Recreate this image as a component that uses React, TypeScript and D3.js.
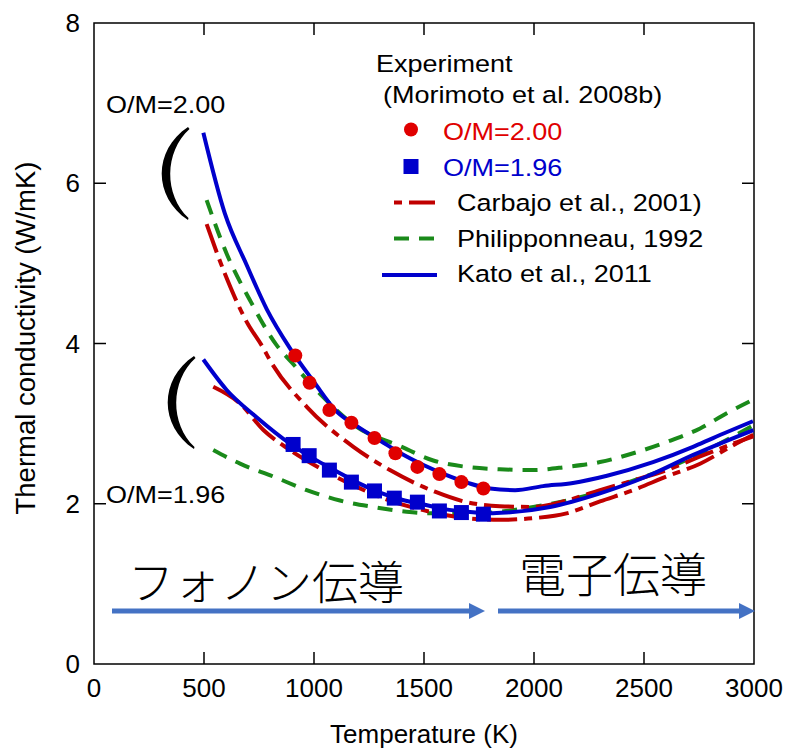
import React from "react";
import * as d3 from "d3";

// ---- data ----
const xTicks = [0, 500, 1000, 1500, 2000, 2500, 3000];
const yTicks = [0, 2, 4, 6, 8];

const expT200 = [915, 980, 1070, 1170, 1275, 1370, 1470, 1570, 1670, 1770];
const expK200 = [3.85, 3.51, 3.17, 3.01, 2.82, 2.63, 2.46, 2.37, 2.27, 2.19];
const expT196 = [905, 978, 1070, 1170, 1275, 1365, 1470, 1570, 1670, 1770];
const expK196 = [2.74, 2.6, 2.42, 2.27, 2.16, 2.07, 2.02, 1.91, 1.89, 1.87];

const katoT200 = [497, 595, 694, 785, 891, 1000, 1100, 1200, 1300, 1400, 1500, 1600, 1700, 1800, 1914, 2041, 2177, 2332, 2541, 2723, 2814, 2995];
const katoK200 = [6.63, 5.62, 4.98, 4.43, 3.94, 3.52, 3.16, 2.96, 2.79, 2.62, 2.48, 2.36, 2.26, 2.19, 2.17, 2.22, 2.26, 2.35, 2.52, 2.71, 2.82, 3.03];
const katoT196 = [497, 603, 739, 891, 1000, 1100, 1200, 1300, 1400, 1500, 1600, 1700, 1800, 1876, 2073, 2300, 2512, 2724, 2997];
const katoK196 = [3.8, 3.42, 3.08, 2.75, 2.56, 2.41, 2.26, 2.14, 2.05, 1.99, 1.93, 1.9, 1.88, 1.89, 1.96, 2.13, 2.34, 2.61, 2.92];

const carbT200 = [512, 595, 694, 770, 800, 967, 1179, 1345, 1550, 1694, 1845, 1995, 2148, 2300, 2450, 2603, 2755, 2905, 2997];
const carbK200 = [5.49, 4.87, 4.27, 3.94, 3.79, 3.21, 2.71, 2.42, 2.15, 2.02, 1.97, 1.96, 2.04, 2.17, 2.29, 2.42, 2.59, 2.75, 2.84];
const carbT196 = [542, 664, 770, 891, 1042, 1194, 1345, 1497, 1694, 1845, 1997, 2148, 2300, 2451, 2603, 2755, 2906, 2997];
const carbK196 = [3.46, 3.25, 2.92, 2.67, 2.42, 2.21, 2.04, 1.92, 1.82, 1.8, 1.82, 1.88, 2.03, 2.17, 2.34, 2.5, 2.73, 2.86];

const phT200 = [512, 603, 709, 830, 900, 1042, 1194, 1391, 1542, 1694, 1845, 1997, 2148, 2300, 2451, 2603, 2755, 2876, 2997];
const phK200 = [5.79, 5.12, 4.54, 3.98, 3.76, 3.33, 2.96, 2.72, 2.54, 2.46, 2.43, 2.42, 2.46, 2.52, 2.63, 2.77, 2.94, 3.13, 3.3];
const phT196 = [542, 664, 815, 967, 1118, 1270, 1421, 1541, 1694, 1845, 1997, 2148, 2300, 2451, 2603, 2755, 2906, 2997];
const phK196 = [2.67, 2.5, 2.34, 2.17, 2.04, 1.96, 1.9, 1.88, 1.88, 1.9, 1.96, 2.04, 2.15, 2.29, 2.44, 2.63, 2.84, 2.98];

const legendLabels = ["Experiment", "(Morimoto et al. 2008b)", "O/M=2.00", "O/M=1.96", "Carbajo et al., 2001)", "Philipponneau, 1992", "Kato et al., 2011"];

const RED = "#e00000";
const DRED = "#c00000";
const GREEN = "#1a8a1a";
const BLUE = "#0000cc";
const ARROW = "#4472c4";
const FONT = "'Liberation Sans', Arial, sans-serif";

const zip = (t: number[], k: number[]) => t.map((v, i) => [v, k[i]] as [number, number]);

const W = 787, H = 750;
const x = d3.scaleLinear().domain([0, 3000]).range([94, 754]);
const y = d3.scaleLinear().domain([0, 8]).range([664, 23]);

const line = d3
  .line<[number, number]>()
  .x((d) => x(d[0]))
  .y((d) => y(d[1]))
  .curve(d3.curveMonotoneX);

function SText(props: { x: number; y: number; size?: number; fill?: string; sx?: number; children: any }) {
  const { size = 23.5, fill = "#000", sx = 1.15 } = props;
  return (
    <text
      transform={`translate(${props.x},${props.y}) scale(${sx},1)`}
      fontFamily={FONT}
      fontSize={size}
      fill={fill}
    >
      {props.children}
    </text>
  );
}

// big bracket shape: top tip at (tx,ty), height h
function bracketPath(tx: number, ty: number, h: number) {
  const by = ty + h;
  return [
    `M${tx},${ty}`,
    `C${tx - 35},${ty + h * 0.25} ${tx - 35},${by - h * 0.25} ${tx},${by}`,
    `L${tx + 0.5},${by - 2}`,
    `C${tx - 24},${by - h * 0.27} ${tx - 24},${ty + h * 0.27} ${tx + 1.5},${ty + 2}`,
    "Z",
  ].join(" ");
}

export default function App() {
  const dashRed = "30,7,8,7";
  const dashGreen = "15,10";
  const sw = 4;
  const x0 = x(0), x1 = x(3000), y0 = y(0), y1 = y(8);
  return (
    <svg width={W} height={H} style={{ position: "absolute", left: 0, top: 0, background: "#fff" }}>
      {/* frame */}
      <rect x={x0} y={y1} width={x1 - x0} height={y0 - y1} fill="none" stroke="#000" strokeWidth={1.5} />
      {xTicks.slice(1, -1).map((t) => (
        <g key={"xt" + t}>
          <line x1={x(t)} x2={x(t)} y1={y0} y2={y0 - 12} stroke="#000" strokeWidth={1.5} />
          <line x1={x(t)} x2={x(t)} y1={y1} y2={y1 + 12} stroke="#000" strokeWidth={1.5} />
        </g>
      ))}
      {yTicks.slice(1, -1).map((t) => (
        <g key={"yt" + t}>
          <line x1={x0} x2={x0 + 12} y1={y(t)} y2={y(t)} stroke="#000" strokeWidth={1.5} />
          <line x1={x1} x2={x1 - 12} y1={y(t)} y2={y(t)} stroke="#000" strokeWidth={1.5} />
        </g>
      ))}
      {xTicks.map((t) => (
        <text key={"xl" + t} x={x(t)} y={697} textAnchor="middle" fontFamily={FONT} fontSize={26}>
          {t}
        </text>
      ))}
      {yTicks.map((t) => (
        <text key={"yl" + t} x={80} y={y(t) + 9} textAnchor="end" fontFamily={FONT} fontSize={26}>
          {t}
        </text>
      ))}
      <text x={424} y={743} textAnchor="middle" fontFamily={FONT} fontSize={26}>
        Temperature (K)
      </text>
      <text
        transform={`translate(35,338) rotate(-90)`}
        textAnchor="middle"
        fontFamily={FONT}
        fontSize={27.5}
      >
        Thermal conductivity (W/mK)
      </text>

      {/* curves */}
      <path d={line(zip(phT200, phK200))!} fill="none" stroke={GREEN} strokeWidth={sw} strokeDasharray={dashGreen} />
      <path d={line(zip(phT196, phK196))!} fill="none" stroke={GREEN} strokeWidth={sw} strokeDasharray={dashGreen} />
      <path d={line(zip(carbT200, carbK200))!} fill="none" stroke={DRED} strokeWidth={sw} strokeDasharray={dashRed} />
      <path d={line(zip(carbT196, carbK196))!} fill="none" stroke={DRED} strokeWidth={sw} strokeDasharray={dashRed} />
      <path d={line(zip(katoT200, katoK200))!} fill="none" stroke={BLUE} strokeWidth={sw} />
      <path d={line(zip(katoT196, katoK196))!} fill="none" stroke={BLUE} strokeWidth={sw} />

      {/* experiment markers */}
      {expT200.map((t, i) => (
        <circle key={"c" + i} cx={x(t)} cy={y(expK200[i])} r={7} fill={RED} />
      ))}
      {expT196.map((t, i) => (
        <rect key={"s" + i} x={x(t) - 7.5} y={y(expK196[i]) - 7.5} width={15} height={15} fill={BLUE} />
      ))}

      {/* annotations */}
      <SText x={106} y={113}>O/M=2.00</SText>
      <SText x={106} y={503}>O/M=1.96</SText>
      <path d={bracketPath(188, 127, 93)} fill="#000" />
      <path d={bracketPath(194, 356, 93)} fill="#000" />

      {/* legend */}
      <SText x={376} y={72}>{legendLabels[0]}</SText>
      <SText x={383} y={103}>{legendLabels[1]}</SText>
      <circle cx={411} cy={129.5} r={7} fill={RED} />
      <SText x={443} y={140} fill={RED}>{legendLabels[2]}</SText>
      <rect x={403.5} y={159} width={15} height={15} fill={BLUE} />
      <SText x={443} y={176} fill={BLUE}>{legendLabels[3]}</SText>
      <line x1={394} x2={435} y1={202.5} y2={202.5} stroke={DRED} strokeWidth={sw} strokeDasharray={dashRed} strokeDashoffset={37} />
      <SText x={457} y={211}>{legendLabels[4]}</SText>
      <line x1={394} x2={435} y1={238.5} y2={238.5} stroke={GREEN} strokeWidth={sw} strokeDasharray={dashGreen} />
      <SText x={457} y={247}>{legendLabels[5]}</SText>
      <line x1={382} x2={437} y1={275} y2={275} stroke={BLUE} strokeWidth={sw} />
      <SText x={457} y={282}>{legendLabels[6]}</SText>

      {/* Japanese conduction labels and arrows */}
      <text x={128} y={599} fontFamily="'Noto Sans CJK JP', sans-serif" fontSize={46} fontWeight={300}>
        フォノン伝導
      </text>
      <text x={519} y={592} fontFamily="'Noto Sans CJK JP', sans-serif" fontSize={47} fontWeight={300}>
        電子伝導
      </text>
      <line x1={112} x2={471} y1={611} y2={611} stroke={ARROW} strokeWidth={5} />
      <path d={`M469,603 L485,611 L469,619 Z`} fill={ARROW} />
      <line x1={498} x2={741} y1={611} y2={611} stroke={ARROW} strokeWidth={5} />
      <path d={`M739,603 L755,611 L739,619 Z`} fill={ARROW} />
    </svg>
  );
}
